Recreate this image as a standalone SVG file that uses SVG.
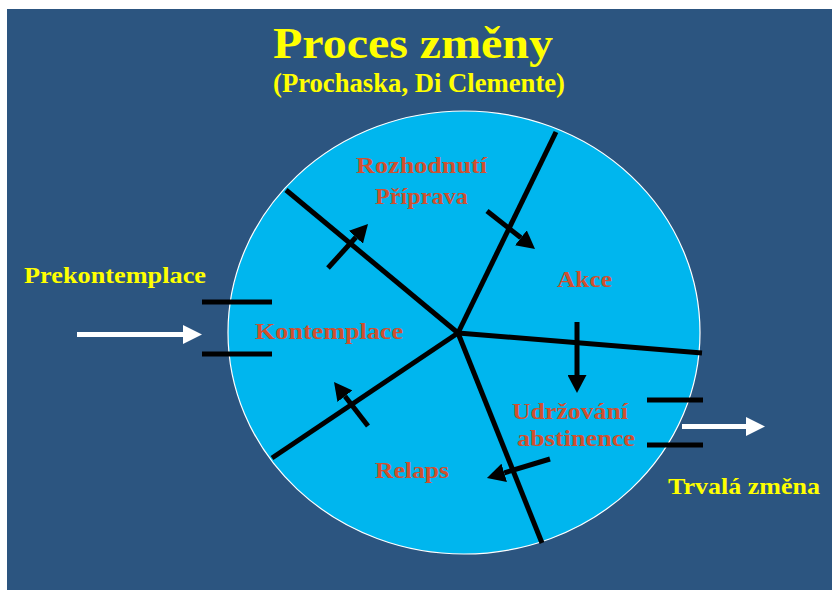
<svg xmlns="http://www.w3.org/2000/svg" width="832" height="590" viewBox="0 0 832 590">
<defs>
<style>
.t{font-family:"Liberation Serif","Times New Roman",serif;font-weight:bold;}
.y{fill:#FFFF00;}
.r{fill:#D0502F;}
.spoke{stroke:#000;stroke-width:5;fill:none;}
.arr{stroke:#000;stroke-width:5;fill:none;marker-end:url(#hb);}
.bar{stroke:#000;stroke-width:5;}
.warr{stroke:#fff;stroke-width:5;marker-end:url(#hw);}
</style>
<marker id="hb" markerUnits="userSpaceOnUse" markerWidth="18" markerHeight="19" refX="0" refY="9.5" orient="auto" viewBox="0 0 18 19"><path d="M0,0 L18,9.5 L0,19 z" fill="#000"/></marker>
<marker id="hw" markerUnits="userSpaceOnUse" markerWidth="19" markerHeight="19" refX="0" refY="9.5" orient="auto" viewBox="0 0 19 19"><path d="M0,0 L19,9.5 L0,19 z" fill="#fff"/></marker>
</defs>
<rect x="7" y="9" width="825" height="581" fill="#2C5580"/>
<g id="title">
<text class="t y" x="413" y="58" font-size="44" text-anchor="middle" textLength="280" lengthAdjust="spacingAndGlyphs">Proces změny</text>
<text class="t y" x="419" y="92" font-size="27" text-anchor="middle" textLength="292" lengthAdjust="spacingAndGlyphs">(Prochaska, Di Clemente)</text>
</g>
<g id="circle">
<ellipse cx="464" cy="332.5" rx="236" ry="221.5" fill="#00B6EE" stroke="#fff" stroke-width="1.2"/>
</g>
<g id="connectors">
<line class="spoke" x1="458" y1="333" x2="286" y2="190"/>
<line class="spoke" x1="458" y1="333" x2="556" y2="132"/>
<line class="spoke" x1="458" y1="333" x2="702" y2="353"/>
<line class="spoke" x1="458" y1="333" x2="542" y2="543"/>
<line class="spoke" x1="458" y1="333" x2="272" y2="458"/>
<line class="arr" x1="328" y1="268" x2="355.9" y2="237.3"/>
<line class="arr" x1="487" y1="211" x2="520.9" y2="237.8"/>
<line class="arr" x1="577" y1="322" x2="577" y2="375"/>
<line class="arr" x1="550" y1="459" x2="504.2" y2="472.8"/>
<line class="arr" x1="368" y1="426" x2="345" y2="396.2"/>
<line class="bar" x1="202" y1="302" x2="272" y2="302"/>
<line class="bar" x1="202" y1="354" x2="272" y2="354"/>
<line class="bar" x1="647" y1="400" x2="703" y2="400"/>
<line class="bar" x1="647" y1="445" x2="703" y2="445"/>
<line class="warr" x1="77" y1="334.5" x2="183" y2="334.5"/>
<line class="warr" x1="682" y1="426.5" x2="746" y2="426.5"/>
</g>
<g id="prekontemplace"><text class="t y" x="24" y="283" font-size="24" textLength="182" lengthAdjust="spacingAndGlyphs">Prekontemplace</text></g>
<g id="rozhodnuti"><text class="t r" x="356" y="173" font-size="23" textLength="131" lengthAdjust="spacingAndGlyphs">Rozhodnutí</text>
<text class="t r" x="375" y="204" font-size="23" textLength="93" lengthAdjust="spacingAndGlyphs">Příprava</text></g>
<g id="akce"><text class="t r" x="557" y="287" font-size="23" textLength="55" lengthAdjust="spacingAndGlyphs">Akce</text></g>
<g id="kontemplace"><text class="t r" x="255" y="339" font-size="23" textLength="148" lengthAdjust="spacingAndGlyphs">Kontemplace</text></g>
<g id="udrzovani"><text class="t r" x="512" y="419" font-size="23" textLength="116" lengthAdjust="spacingAndGlyphs">Udržování</text>
<text class="t r" x="517" y="446" font-size="23" textLength="118" lengthAdjust="spacingAndGlyphs">abstinence</text></g>
<g id="relaps"><text class="t r" x="375" y="478" font-size="23" textLength="74" lengthAdjust="spacingAndGlyphs">Relaps</text></g>
<g id="trvala"><text class="t y" x="668" y="494" font-size="23" textLength="152" lengthAdjust="spacingAndGlyphs">Trvalá změna</text></g>
</svg>
